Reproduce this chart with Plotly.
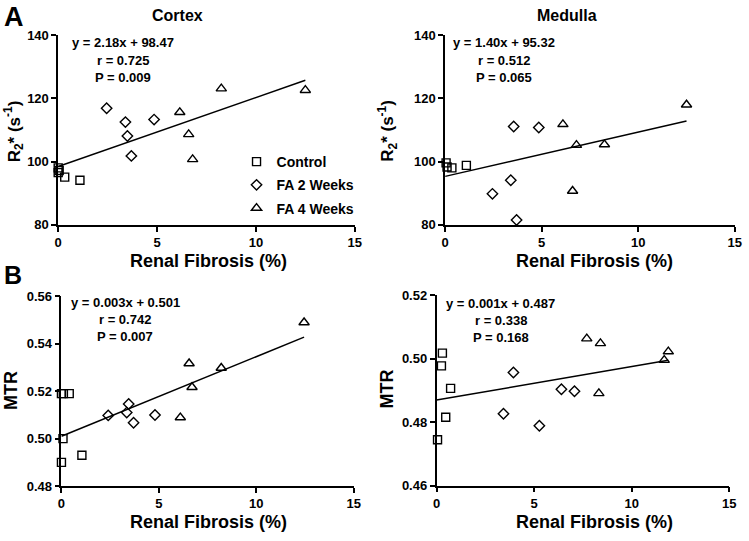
import numpy as np
import plotly.graph_objects as go

W, H = 749, 541
FONT = "Liberation Sans, Arial, sans-serif"

# ---------------- data ----------------
group_names = ["Control", "FA 2 Weeks", "FA 4 Weeks"]
group_symbols = ["square-open", "diamond-open", "triangle-up-open"]
group_sizes = [8, 8, 9]

# Cortex R2*
cx_r2_ctrl_x = [0.0, 0.05, 0.0, 0.33, 1.1]
cx_r2_ctrl_y = [98.0, 97.2, 96.5, 95.1, 94.1]
cx_r2_fa2_x = [2.45, 3.4, 3.5, 3.7, 4.85]
cx_r2_fa2_y = [116.9, 112.5, 108.1, 101.8, 113.3]
cx_r2_fa4_x = [6.15, 6.6, 6.8, 8.25, 12.5]
cx_r2_fa4_y = [115.6, 108.6, 100.7, 123.1, 122.6]

# Medulla R2*
md_r2_ctrl_x = [0.05, 0.1, 0.35, 1.1]
md_r2_ctrl_y = [99.6, 98.3, 98.0, 98.8]
md_r2_fa2_x = [2.45, 3.4, 3.55, 3.7, 4.85]
md_r2_fa2_y = [89.8, 94.1, 111.1, 81.5, 110.8]
md_r2_fa4_x = [6.1, 6.6, 6.8, 8.25, 12.5]
md_r2_fa4_y = [111.8, 90.7, 105.2, 105.4, 118.0]

# Cortex MTR
cx_mtr_ctrl_x = [0.0, 0.08, 0.0, 0.1, 0.4, 1.05]
cx_mtr_ctrl_y = [0.490, 0.500, 0.519, 0.519, 0.519, 0.493]
cx_mtr_fa2_x = [2.4, 3.35, 3.45, 3.7, 4.8]
cx_mtr_fa2_y = [0.5098, 0.5110, 0.5146, 0.5067, 0.5100]
cx_mtr_fa4_x = [6.1, 6.55, 6.7, 8.2, 12.45]
cx_mtr_fa4_y = [0.5089, 0.5317, 0.5217, 0.5298, 0.5490]

# Medulla MTR
md_mtr_ctrl_x = [0.05, 0.25, 0.3, 0.47, 0.72]
md_mtr_ctrl_y = [0.4745, 0.4978, 0.5018, 0.4816, 0.4907]
md_mtr_fa2_x = [3.43, 3.94, 5.27, 6.4, 7.07]
md_mtr_fa2_y = [0.4827, 0.4957, 0.4789, 0.4904, 0.4898]
md_mtr_fa4_x = [7.7, 8.4, 8.32, 11.67, 11.88]
md_mtr_fa4_y = [0.5064, 0.5049, 0.4891, 0.4996, 0.5023]

# regression lines (slope, intercept) and printed statistics
fit_slopes = [2.18, 1.40, 0.00336, 0.00106]
fit_intercepts = [98.47, 95.32, 0.501, 0.487]
eq_texts = ["y = 2.18x + 98.47", "y = 1.40x + 95.32", "y = 0.003x + 0.501", "y = 0.001x + 0.487"]
r_texts = ["r = 0.725", "r = 0.512", "r = 0.742", "r = 0.338"]
p_texts = ["P = 0.009", "P = 0.065", "P = 0.007", "P = 0.168"]

x_range = [0, 15]
x_ticks = [0, 5, 10, 15]
y_ranges = [[80, 140], [80, 140], [0.48, 0.56], [0.46, 0.52]]
y_dticks = [20, 20, 0.02, 0.02]
y_formats = ["d", "d", ".2f", ".2f"]

panel_titles = ["Cortex", "Medulla"]
x_title = "Renal Fibrosis (%)"
y_titles = ["R<sub>2</sub>* (s<sup>-1</sup>)", "R<sub>2</sub>* (s<sup>-1</sup>)", "MTR", "MTR"]
panel_letters = ["A", "B"]

panels = [
    [(cx_r2_ctrl_x, cx_r2_ctrl_y), (cx_r2_fa2_x, cx_r2_fa2_y), (cx_r2_fa4_x, cx_r2_fa4_y)],
    [(md_r2_ctrl_x, md_r2_ctrl_y), (md_r2_fa2_x, md_r2_fa2_y), (md_r2_fa4_x, md_r2_fa4_y)],
    [(cx_mtr_ctrl_x, cx_mtr_ctrl_y), (cx_mtr_fa2_x, cx_mtr_fa2_y), (cx_mtr_fa4_x, cx_mtr_fa4_y)],
    [(md_mtr_ctrl_x, md_mtr_ctrl_y), (md_mtr_fa2_x, md_mtr_fa2_y), (md_mtr_fa4_x, md_mtr_fa4_y)],
]

# ---------------- layout helpers (pixels -> paper) ----------------
def px(x):
    return x / W

def py(y):
    return 1 - y / H

# plot-area boxes in pixels: (left, right, top, bottom)
boxes = [(55, 356, 29, 224), (447.7, 741.7, 29, 224), (58.3, 355, 297.7, 492.7), (439, 736, 296.7, 492.3)]

fig = go.Figure()
layout = dict(
    width=W, height=H, margin=dict(l=0, r=0, t=0, b=0),
    plot_bgcolor="white", paper_bgcolor="white",
    font=dict(family=FONT, color="black"),
)

for i, (l, r, t, b) in enumerate(boxes):
    sfx = "" if i == 0 else str(i + 1)
    layout["xaxis" + sfx] = dict(
        domain=[px(l), px(r)], range=x_range, tickvals=x_ticks, anchor="y" + sfx,
        showline=True, linecolor="black", linewidth=1.5, ticks="outside", ticklen=5,
        tickwidth=1.5, tickcolor="black", showgrid=False, zeroline=False,
        tickfont=dict(size=13, family=FONT, weight="bold", color="black"),
    )
    layout["yaxis" + sfx] = dict(
        domain=[py(b), py(t)], range=y_ranges[i], dtick=y_dticks[i], tick0=y_ranges[i][0],
        tickformat=y_formats[i], anchor="x" + sfx,
        showline=True, linecolor="black", linewidth=1.5, ticks="outside", ticklen=5,
        tickwidth=1.5, tickcolor="black", showgrid=False, zeroline=False,
        tickfont=dict(size=13, family=FONT, weight="bold", color="black"),
    )

for i, groups in enumerate(panels):
    sfx = "" if i == 0 else str(i + 1)
    for g, (gx, gy) in enumerate(groups):
        fig.add_trace(go.Scatter(
            x=gx, y=gy, mode="markers", name=group_names[g],
            showlegend=(i == 0), legendgroup=group_names[g],
            marker=dict(symbol=group_symbols[g], size=group_sizes[g], color="black",
                        line=dict(width=1.4, color="black")),
            cliponaxis=False, xaxis="x" + sfx, yaxis="y" + sfx,
        ))
    all_x = [v for gx, _ in groups for v in gx]
    lx = np.array([0.0, max(all_x)])
    ly = fit_slopes[i] * lx + fit_intercepts[i]
    fig.add_trace(go.Scatter(
        x=lx, y=ly, mode="lines", showlegend=False,
        line=dict(color="black", width=1.5), xaxis="x" + sfx, yaxis="y" + sfx,
    ))

ann = []
# statistics text blocks (center x, first line y)
stat_pos = [(121, 37), (507, 37), (123, 304), (504, 305)]
for i, (cx, cy) in enumerate(stat_pos):
    for k, txt in enumerate([eq_texts[i], r_texts[i], p_texts[i]]):
        ann.append(dict(x=px(cx), y=py(cy + k * 17.7), xref="paper", yref="paper",
                        text="<b>" + txt + "</b>", showarrow=False, xanchor="center",
                        yanchor="middle", font=dict(size=13, family=FONT)))

# panel titles
for txt, cx in zip(panel_titles, [176, 571]):
    ann.append(dict(x=px(cx), y=py(9), xref="paper", yref="paper", text="<b>" + txt + "</b>",
                    showarrow=False, xanchor="center", yanchor="middle", font=dict(size=16, family=FONT)))

# x-axis titles
for cx, cy in [(208, 261), (599, 261), (208, 530), (599, 530)]:
    ann.append(dict(x=px(cx), y=py(cy), xref="paper", yref="paper", text="<b>" + x_title + "</b>",
                    showarrow=False, xanchor="center", yanchor="middle", font=dict(size=18, family=FONT)))

# y-axis titles
for i, (cx, cy, fs) in enumerate([(10, 128, 17), (389, 127, 17), (7, 394, 18), (389, 393, 18)]):
    ann.append(dict(x=px(cx), y=py(cy), xref="paper", yref="paper", text="<b>" + y_titles[i] + "</b>",
                    showarrow=False, xanchor="center", yanchor="middle", textangle=-90,
                    font=dict(size=fs, family=FONT)))

# panel letters
for txt, (cx, cy, fs) in zip(panel_letters, [(10, 10, 27), (9, 276, 25)]):
    ann.append(dict(x=px(cx), y=py(cy), xref="paper", yref="paper", text="<b>" + txt + "</b>",
                    showarrow=False, xanchor="center", yanchor="middle", font=dict(size=fs, family=FONT)))

layout["annotations"] = ann
layout["legend"] = dict(
    x=px(236), y=py(143), xanchor="left", yanchor="top",
    bgcolor="rgba(0,0,0,0)", borderwidth=0,
    font=dict(size=14, family=FONT, weight="bold", color="black"),
    tracegroupgap=2,
)
fig.update_layout(**layout)
fig.write_html("out.html", config={"displayModeBar": False},
               post_script="document.body.style.margin='0px';")
